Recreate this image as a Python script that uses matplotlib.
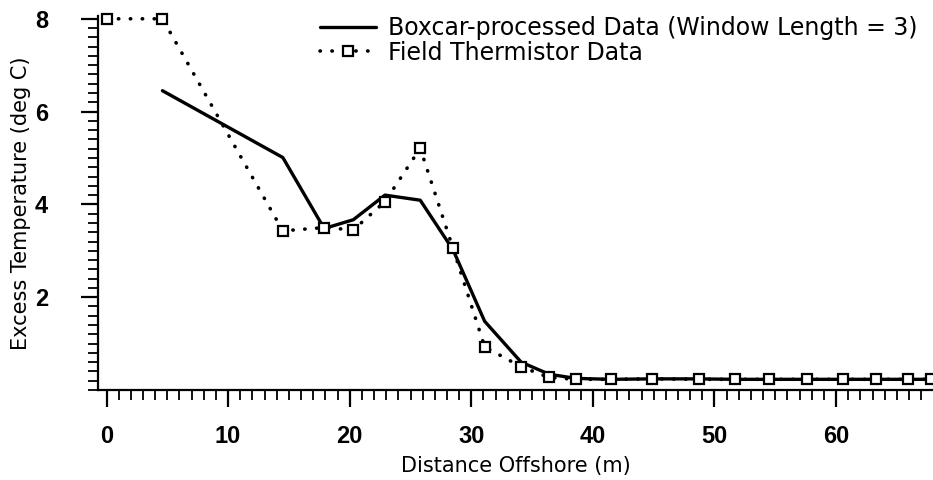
import matplotlib
matplotlib.use("Agg")
import matplotlib.pyplot as plt
from matplotlib.ticker import MultipleLocator

# Field thermistor data (dotted line, open squares)
field_x = [0.0, 4.6, 14.5, 17.9, 20.3, 22.9, 25.8, 28.5, 31.1, 34.1, 36.4,
           38.6, 41.5, 44.9, 48.7, 51.7, 54.5, 57.6, 60.6, 63.3, 65.9, 67.8]
field_y = [8.0, 8.0, 3.43, 3.50, 3.45, 4.06, 5.21, 3.05, 0.93, 0.50, 0.27,
           0.23, 0.23, 0.24, 0.23, 0.23, 0.23, 0.23, 0.23, 0.23, 0.23, 0.23]

# Boxcar-processed data (solid line)
box_x = [4.6, 14.5, 17.9, 20.3, 22.9, 25.8, 28.5, 31.1, 34.1, 36.4,
         38.6, 41.5, 44.9, 48.7, 51.7, 54.5, 57.6, 60.6, 63.3, 65.9, 67.8]
box_y = [6.45, 5.01, 3.48, 3.67, 4.20, 4.09, 3.02, 1.48, 0.60, 0.34,
         0.25, 0.23, 0.24, 0.24, 0.23, 0.23, 0.23, 0.23, 0.23, 0.23, 0.23]

x_ticks = [0, 10, 20, 30, 40, 50, 60]
y_ticks = [2, 4, 6, 8]

plt.rcParams['font.family'] = ['DejaVu Sans']
narrow = ['Liberation Sans Narrow', 'Liberation Sans', 'DejaVu Sans']

fig = plt.figure(figsize=(9.33, 4.8), dpi=100)
ax = fig.add_axes([98/933, 1 - 390/480, 1 - 98/933, (390 - 16)/480])

ax.plot(box_x, box_y, color='black', lw=2.4, solid_capstyle='round',
        label='Boxcar-processed Data (Window Length = 3)', zorder=3)
ax.plot(field_x, field_y, color='black', lw=2.6, linestyle=(0, (0.1, 3.2)),
        dash_capstyle='round', marker='s', markersize=6.5, markerfacecolor='white',
        markeredgecolor='black', markeredgewidth=1.6,
        label='Field Thermistor Data', zorder=4, clip_on=False)

ax.set_xlim(-0.7, 67.97)
ax.set_ylim(0, 8.06)

ax.spines['top'].set_visible(False)
ax.spines['right'].set_visible(False)
ax.spines['left'].set_linewidth(1.6)
ax.spines['bottom'].set_linewidth(1.6)

ax.set_xticks(x_ticks)
ax.set_yticks(y_ticks)
ax.xaxis.set_minor_locator(MultipleLocator(1))
ax.yaxis.set_minor_locator(MultipleLocator(0.2))
ax.tick_params(axis='x', which='major', direction='out', length=12, width=1.6,
               pad=13, labelsize=17)
ax.tick_params(axis='x', which='minor', direction='out', length=7, width=1.3)
ax.tick_params(axis='y', which='major', direction='out', length=12, width=1.6,
               pad=24, labelsize=17)
ax.tick_params(axis='y', which='minor', direction='out', length=7, width=1.3)
for lab in ax.get_xticklabels() + ax.get_yticklabels():
    lab.set_fontweight('bold')
    lab.set_family(narrow)

ax.set_xlabel('Distance Offshore (m)', fontsize=15, labelpad=6)
ax.set_ylabel('Excess Temperature (deg C)', fontsize=15, labelpad=3)

leg = ax.legend(loc='upper right', bbox_to_anchor=(0.993, 1.025), frameon=False,
                fontsize=17, handlelength=2.4, handletextpad=0.5,
                labelspacing=0.02, borderaxespad=0.0)

fig.savefig('out.png', dpi=100)
